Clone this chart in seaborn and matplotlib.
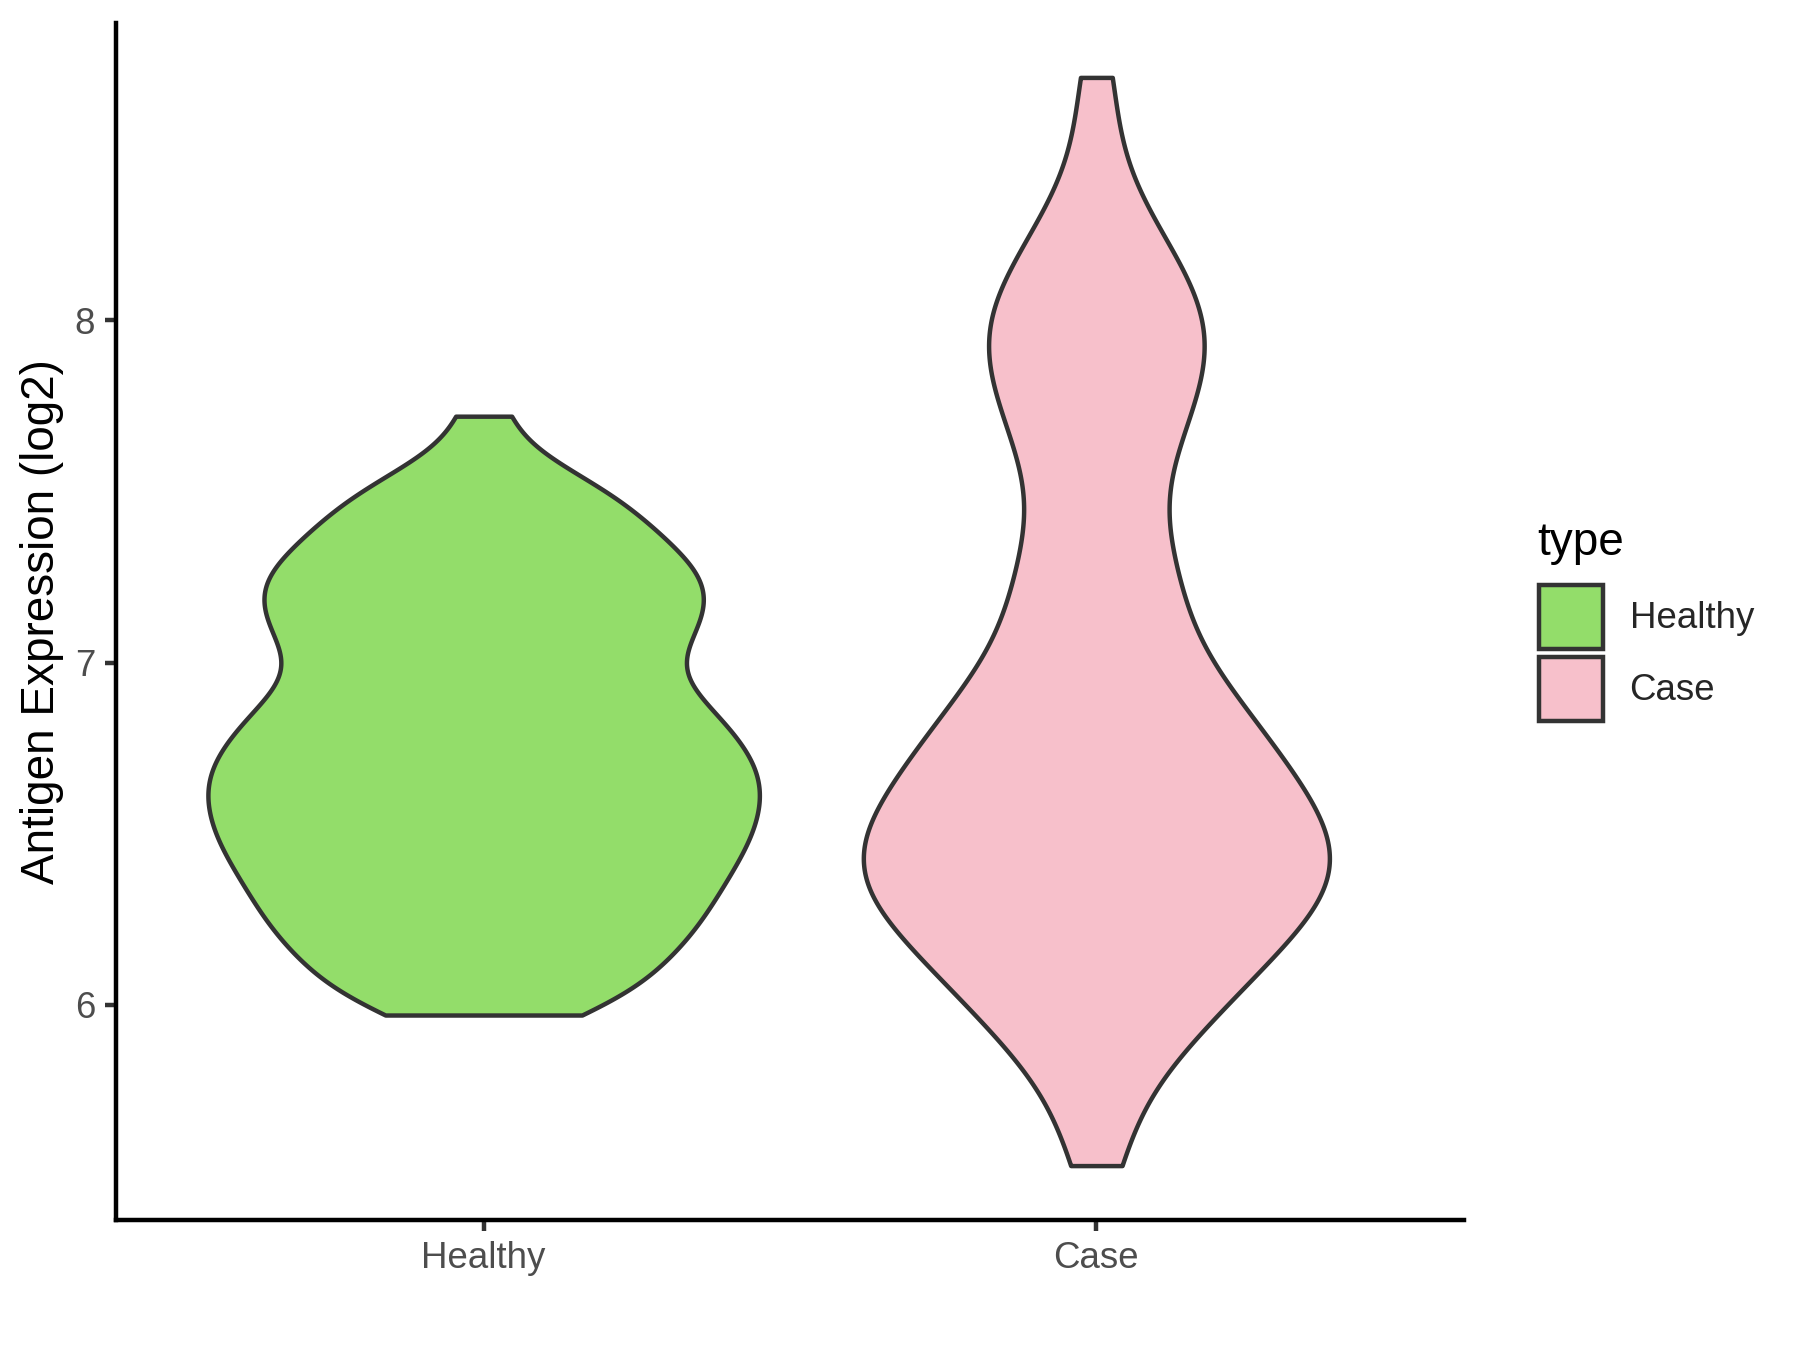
import matplotlib
matplotlib.use("Agg")
import matplotlib.pyplot as plt
import numpy as np
import pandas as pd
import seaborn as sns
from matplotlib.patches import Patch, Rectangle
from matplotlib.legend_handler import HandlerPatch

# ---------------- data ----------------
categories = ["Healthy", "Case"]
healthy_values = [
    5.97, 5.99, 6.01, 6.04, 6.07, 6.10, 6.12, 6.15, 6.17, 6.19, 6.21, 6.23,
    6.25, 6.27, 6.29, 6.31, 6.33, 6.35, 6.36, 6.38, 6.40, 6.42, 6.44, 6.45,
    6.47, 6.48, 6.50, 6.52, 6.53, 6.55, 6.56, 6.58, 6.60, 6.61, 6.63, 6.64,
    6.66, 6.67, 6.69, 6.70, 6.72, 6.74, 6.75, 6.77, 6.79, 6.80, 6.82, 6.84,
    6.86, 6.88, 6.90, 6.91, 6.94, 6.95, 7.00, 7.02, 7.04, 7.06, 7.08, 7.10,
    7.12, 7.14, 7.15, 7.18, 7.21, 7.22, 7.23, 7.25, 7.27, 7.29, 7.31, 7.34,
    7.36, 7.38, 7.41, 7.44, 7.47, 7.50, 7.53, 7.56, 7.72,
]
case_values = [
    5.53, 5.65, 5.80, 5.85, 5.91, 5.94, 5.98, 6.02, 6.05, 6.08, 6.11, 6.13,
    6.16, 6.18, 6.21, 6.23, 6.25, 6.27, 6.29, 6.31, 6.33, 6.35, 6.37, 6.38,
    6.39, 6.40, 6.42, 6.44, 6.46, 6.48, 6.50, 6.52, 6.54, 6.55, 6.57,
    6.59, 6.62, 6.64, 6.66, 6.68, 6.70, 6.73, 6.75, 6.78, 6.81, 6.83, 6.86,
    6.89, 6.92, 6.96, 6.99, 7.03, 7.11, 7.15, 7.20, 7.25, 7.30, 7.36, 7.42,
    7.53, 7.59, 7.64, 7.69, 7.74, 7.78, 7.83, 7.87, 7.92, 7.95, 7.96, 8.00,
    8.05, 8.09, 8.14, 8.19, 8.25, 8.31, 8.48, 8.71,
]
fill_colors = ["#93DD6A", "#F7C0CB"]
y_ticks = [6, 7, 8]
y_label = "Antigen Expression (log2)"
legend_title = "type"

# ---------------- style ----------------
sns.set_style("ticks")
plt.rcParams["font.family"] = ["Liberation Sans", "DejaVu Sans"]

df = pd.DataFrame({
    "type": [categories[0]] * len(healthy_values) + [categories[1]] * len(case_values),
    "value": healthy_values + case_values,
})
palette = dict(zip(categories, fill_colors))

W, H = 1800, 1350
fig = plt.figure(figsize=(6, 4.5), dpi=300)
ax = fig.add_axes([116 / W, 1 - 1220 / H, (1464 - 116) / W, (1220 - 23) / H])

sns.violinplot(
    data=df, x="type", y="value", hue="type",
    order=categories, hue_order=categories, palette=palette,
    density_norm="area", common_norm=True, cut=0, inner=None,
    bw_method=0.22, gridsize=512,
    width=0.9, linewidth=1.07, linecolor="#333333", saturation=1,
    legend=False, ax=ax,
)

# axes cosmetics (ggplot theme_classic look)
for s in ["top", "right"]:
    ax.spines[s].set_visible(False)
for s in ["left", "bottom"]:
    ax.spines[s].set_linewidth(1.07)
    ax.spines[s].set_color("black")
ax.tick_params(axis="both", length=2.75, width=1.07, color="#333333",
               labelsize=8.8, labelcolor="#4D4D4D", pad=2.2)
ax.set_xlabel("")
ax.set_ylabel(y_label, fontsize=11, color="black", labelpad=2.6)
ax.set_yticks(y_ticks)
ax.set_xlim(-0.6, 1.6)
all_vals = healthy_values + case_values
lo, hi = min(all_vals), max(all_vals)
span = hi - lo
ax.set_ylim(lo - 0.05 * span, hi + 0.05 * span)
ax.grid(False)


def square_patch(legend, orig_handle, xdescent, ydescent, width, height, fontsize):
    side = width
    return Rectangle((-xdescent, -ydescent + (height - side) / 2), side, side)


# legend title drawn as its own text, keys as a title-less legend
fig.text(1537 / W, 1 - 555 / H, legend_title, fontsize=11, color="black",
         ha="left", va="baseline")
handles = [Patch(facecolor=c, edgecolor="#333333", linewidth=1.07) for c in fill_colors]
leg = ax.legend(
    handles, categories, loc="upper left",
    bbox_to_anchor=(1539 / W, 1 - 581 / H), bbox_transform=fig.transFigure,
    frameon=False, fontsize=8.8,
    handlelength=1.75, handleheight=2.64, handletextpad=0.72,
    labelspacing=0, borderpad=0, borderaxespad=0,
    handler_map={Patch: HandlerPatch(patch_func=square_patch)},
)

fig.savefig("out.png", dpi=300)
